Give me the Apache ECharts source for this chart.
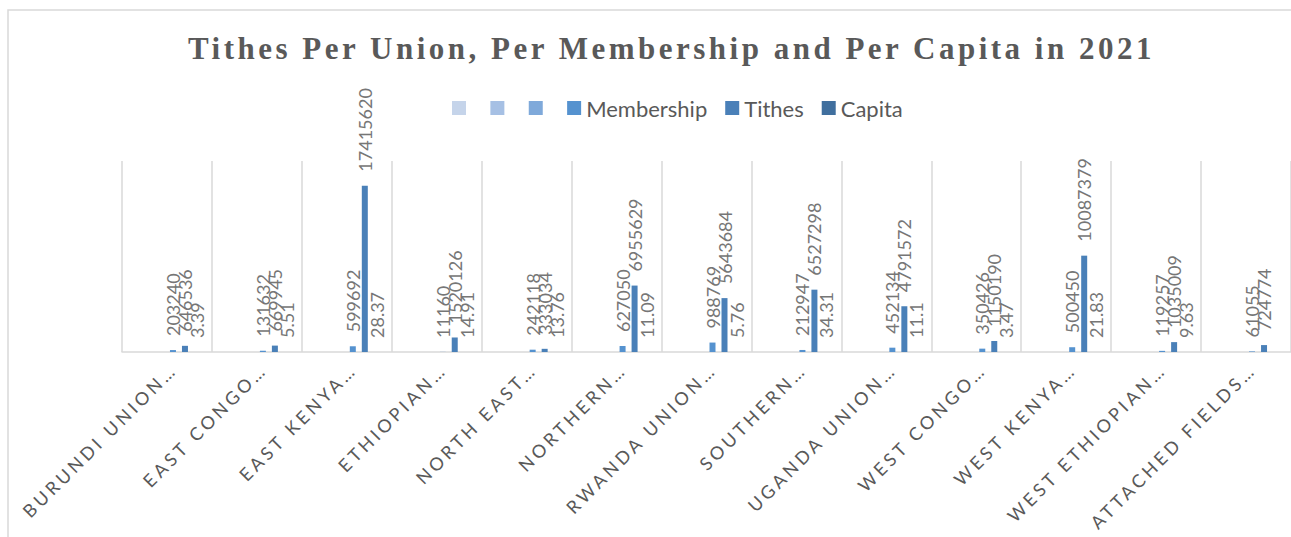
<!DOCTYPE html>
<html><head><meta charset="utf-8">
<script src="https://cdn.jsdelivr.net/npm/echarts@6/dist/echarts.min.js"></script>
<style>
html,body{margin:0;padding:0;background:#fff;}
#chart{width:1291px;height:537px;}
#chart text[style*="Liberation Serif"]{letter-spacing:3.5px;}
#chart text[style*="Carlito"]{letter-spacing:3.5px;}
</style></head><body><div id="chart"></div>
<script>
const categories = ['BURUNDI UNION…','EAST CONGO…','EAST KENYA…','ETHIOPIAN…','NORTH EAST…','NORTHERN…','RWANDA UNION…','SOUTHERN…','UGANDA UNION…','WEST CONGO…','WEST KENYA…','WEST ETHIOPIAN…','ATTACHED FIELDS…'];
const membership = [203240,131632,599692,11160,242118,627050,988769,212947,452134,350426,500450,119257,61055];
const tithes = [646536,669945,17415620,1520126,333034,6955629,5643684,6527298,4791572,1150190,10087379,1035009,724774];
const capita = [3.39,5.51,28.37,14.91,13.76,11.09,5.76,34.31,11.1,3.47,21.83,9.63,null];
const blankNames = ['\u200a','\u200a\u200b','\u200a\u200b\u200b'];
const titleText = 'Tithes Per Union, Per Membership and Per Capita in 2021';
const yMax = 20000000;

const blankColors = ['#C5D4EA','#A6C0E4','#7FA9DA'];
const mainColors = ['#5592CF','#4A80B8','#406F9E'];

const labelCfg = {
  show: true, position: 'top', distance: 14, rotate: 90, align: 'left', verticalAlign: 'middle',
  color: '#767676', fontFamily: 'Lato', fontSize: 18,
  formatter: p => String(p.value)
};
const series = [];
blankNames.forEach((n,i)=>series.push({name:n,type:'bar',data:[],barWidth:6,barGap:'100%',itemStyle:{color:blankColors[i]}}));
[['Membership',membership],['Tithes',tithes],['Capita',capita]].forEach(([n,d],i)=>series.push({
  name:n,type:'bar',data:d,barWidth:6,barGap:'100%',itemStyle:{color:mainColors[i]},label:labelCfg
}));

const chart = echarts.init(document.getElementById('chart'), null, {renderer:'svg'});
chart.setOption({
  animation:false,
  backgroundColor:'#fff',
  title:{text:titleText,left:183,top:28,textStyle:{fontFamily:'Liberation Serif',fontWeight:'bold',fontSize:31,color:'#595959'}},
  legend:{left:447,top:92,itemWidth:14,itemHeight:14,itemGap:18,icon:'rect',
    data:blankNames.concat(['Membership','Tithes','Capita']),
    textStyle:{fontFamily:'Lato',fontSize:22,color:'#595959'}},
  graphic:[{type:'rect',shape:{x:8,y:10,width:1400,height:700},style:{fill:'none',stroke:'#d9d9d9',lineWidth:1.5},silent:true,z:-1}],
  grid:{left:122,right:-12,top:161,bottom:185,containLabel:false},
  xAxis:{type:'category',data:categories,
    axisLine:{lineStyle:{color:'#d9d9d9',width:1.5}},axisTick:{show:false},
    splitLine:{show:true,lineStyle:{color:'#d9d9d9',width:1.5}},
    axisLabel:{interval:0,rotate:45,align:'right',verticalAlign:'top',margin:8,
      fontFamily:'Lato, Carlito',fontSize:18,color:'#595959'}},
  yAxis:{type:'value',min:0,max:yMax,show:false,splitLine:{show:false}},
  series:series
});
</script></body></html>
